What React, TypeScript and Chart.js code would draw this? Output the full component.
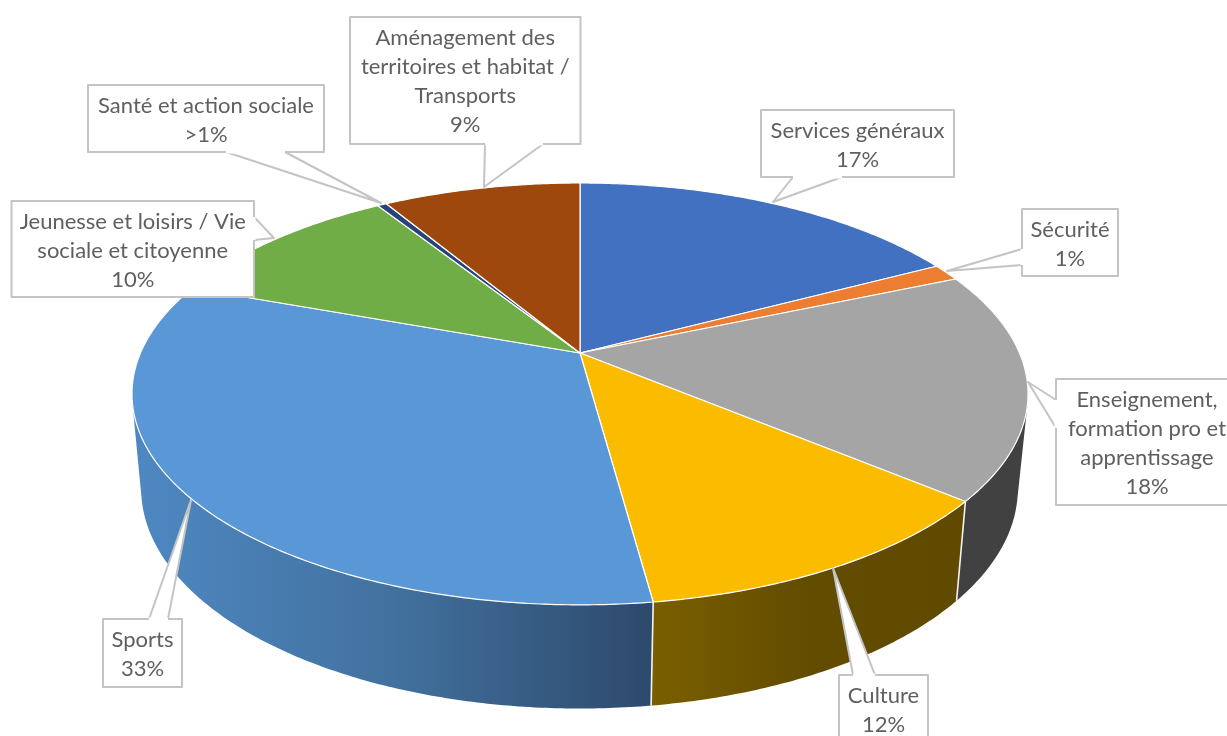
import React, { useEffect, useRef } from "react";
import { Chart, registerables } from "chart.js";

Chart.register(...registerables);

const categories = [
  "Services généraux",
  "Sécurité",
  "Enseignement, formation pro et apprentissage",
  "Culture",
  "Sports",
  "Jeunesse et loisirs / Vie sociale et citoyenne",
  "Santé et action sociale",
  "Aménagement des territoires et habitat / Transports",
];
const shares = [17.3, 1.3, 17.5, 11.8, 32.7, 10.5, 0.4, 8.6];
const sliceColors = ["#4371c1", "#ed7d31", "#a5a5a5", "#fbbc00", "#5a97d6", "#70ad47", "#264478", "#9e480e"];
const wallStops: (string[] | null)[] = [
  null,
  null,
  ["#414141", "#414141", "#414141"],
  ["#7a5e00", "#624c00", "#5f4a00"],
  ["#4e88c2", "#42719f", "#2d4a6c"],
  null,
  null,
  null,
];
const calloutLines = [
  ["Services généraux", "17%"],
  ["Sécurité", "1%"],
  ["Enseignement,", "formation pro et", "apprentissage", "18%"],
  ["Culture", "12%"],
  ["Sports", "33%"],
  ["Jeunesse et loisirs / Vie", "sociale et citoyenne", "10%"],
  ["Santé et action sociale", ">1%"],
  ["Aménagement des", "territoires et habitat /", "Transports", "9%"],
];

// Callout layout: box [x0, y0, x1, y1], pointer outline [x, y]...
const calloutBoxes = [
  [761, 110, 954, 177],
  [1022, 209, 1118, 276],
  [1056, 379, 1238, 505],
  [839, 675, 928, 743],
  [103, 619, 182, 687],
  [11.5, 201, 254, 297],
  [88, 85, 324, 152],
  [350, 17, 580.5, 144],
];
const calloutPointers = [
  [[793, 177], [773, 202], [842, 177]],
  [[1022, 249], [947, 271], [1022, 265]],
  [[1056, 400], [1028, 382], [1056, 428]],
  [[853, 675], [833, 568], [875, 675]],
  [[149, 619], [191, 500], [168, 619]],
  [[254, 217], [274, 238], [254, 240]],
  [[226, 152], [381, 203], [285, 152]],
  [[485, 144], [484, 187], [543, 144]],
];

// Perspective projection of the disc (top face and lower edge).
const view = { cx: 580, k: -0.194, topY: 353, topA: 439.5, topB: 203, lowX: 579.5, lowY: 446, lowA: 430, lowB: 211.6 };

const topPoint = (t: number): [number, number] => {
  const X = Math.cos(t), Y = Math.sin(t), d = 1 + view.k * Y;
  return [view.cx + (view.topA * X) / d, view.topY + (view.topB * Y) / d];
};
const lowPoint = (t: number): [number, number] => {
  const X = Math.cos(t), Y = Math.sin(t), d = 1 + view.k * Y;
  return [view.lowX + (view.lowA * X) / d, view.lowY + (view.lowB * Y) / d];
};
const samples = (a: number, b: number) => {
  const n = Math.max(2, Math.ceil(Math.abs(b - a) / 0.01));
  return Array.from({ length: n + 1 }, (_, i) => a + ((b - a) * i) / n);
};
const signedArea = (q: [number, number][]) =>
  q.reduce((s, p, i) => {
    const r = q[(i + 1) % q.length];
    return s + p[0] * r[1] - r[0] * p[1];
  }, 0);

const disc3d = {
  id: "disc3d",
  beforeDatasetsDraw(chart: any) {
    const { ctx } = chart;
    const arcs = chart.getDatasetMeta(0).data;
    ctx.save();
    ctx.lineJoin = "round";

    // side walls: one path of same-winding quads, so the outline follows the silhouette without seams
    arcs.forEach((arc: any, i: number) => {
      const stops = wallStops[i];
      if (!stops) return;
      const ts = samples(arc.startAngle, arc.endAngle).filter((t) => Math.sin(t) > -0.32);
      if (ts.length < 2) return;
      const tops = ts.map(topPoint);
      const lows = ts.map(lowPoint);
      const g = ctx.createLinearGradient(i === 4 ? 133 : 652, 0, i === 4 ? 652 : 965, 0);
      stops.forEach((c, j) => g.addColorStop(j / (stops.length - 1), c));
      ctx.beginPath();
      for (let j = 0; j < ts.length - 1; j++) {
        const quad = [tops[j], tops[j + 1], lows[j + 1], lows[j]];
        if (signedArea(quad) < 0) quad.reverse();
        quad.forEach((p, m) => (m ? ctx.lineTo(p[0], p[1]) : ctx.moveTo(p[0], p[1])));
        ctx.closePath();
      }
      ctx.fillStyle = g;
      ctx.fill();
    });
    // white seams between walls
    arcs.forEach((arc: any) => {
      const t = arc.endAngle;
      if (Math.sin(t) < 0.1) return;
      const a = topPoint(t), b = lowPoint(t);
      ctx.beginPath();
      ctx.moveTo(a[0], a[1]);
      ctx.lineTo(b[0], b[1]);
      ctx.strokeStyle = "#f4f4f4";
      ctx.lineWidth = 1.6;
      ctx.stroke();
    });

    // top faces
    arcs.forEach((arc: any, i: number) => {
      ctx.beginPath();
      ctx.moveTo(view.cx, view.topY);
      samples(arc.startAngle, arc.endAngle).map(topPoint).forEach((p) => ctx.lineTo(p[0], p[1]));
      ctx.closePath();
      ctx.fillStyle = sliceColors[i];
      ctx.fill();
      ctx.strokeStyle = "#ffffff";
      ctx.lineWidth = 1.2;
      ctx.stroke();
    });

    // callouts
    calloutBoxes.forEach((b, i) => {
      const [x0, y0, x1, y1] = b;
      ctx.fillStyle = "#ffffff";
      ctx.strokeStyle = "#c4c4c4";
      ctx.lineWidth = 2;
      ctx.beginPath();
      ctx.rect(x0, y0, x1 - x0, y1 - y0);
      ctx.fill();
      ctx.stroke();
      const ptr = calloutPointers[i];
      ctx.beginPath();
      ptr.forEach((p, j) => (j ? ctx.lineTo(p[0], p[1]) : ctx.moveTo(p[0], p[1])));
      ctx.closePath();
      ctx.fill();
      ctx.beginPath();
      ptr.forEach((p, j) => (j ? ctx.lineTo(p[0], p[1]) : ctx.moveTo(p[0], p[1])));
      ctx.stroke();
      // hide the box border under the pointer's mouth
      ctx.beginPath();
      ctx.moveTo(ptr[0][0], ptr[0][1]);
      ctx.lineTo(ptr[2][0], ptr[2][1]);
      ctx.lineWidth = 3;
      ctx.strokeStyle = "#ffffff";
      ctx.stroke();

      ctx.fillStyle = "#5f5f5f";
      ctx.font = "22px Lato";
      ctx.textAlign = "center";
      ctx.textBaseline = "middle";
      const mid = (x0 + x1) / 2;
      calloutLines[i].forEach((line, j) => ctx.fillText(line, mid, y0 + 21 + j * 29));
    });
    ctx.restore();
    return false;
  },
};

export default function App() {
  const ref = useRef<HTMLCanvasElement | null>(null);
  useEffect(() => {
    const chart = new Chart(ref.current as HTMLCanvasElement, {
      type: "pie",
      data: {
        labels: categories,
        datasets: [{ data: shares, backgroundColor: sliceColors, borderColor: "#ffffff", borderWidth: 2 }],
      },
      options: {
        animation: false,
        responsive: false,
        devicePixelRatio: 1,
        plugins: { legend: { display: false }, tooltip: { enabled: false } },
      },
      plugins: [disc3d],
    } as any);
    return () => chart.destroy();
  }, []);
  return (
    <div style={{ position: "fixed", left: 0, top: 0, width: 1227, height: 736, background: "#fff", overflow: "hidden" }}>
      <canvas ref={ref} width={1227} height={736} style={{ display: "block" }} />
    </div>
  );
}
